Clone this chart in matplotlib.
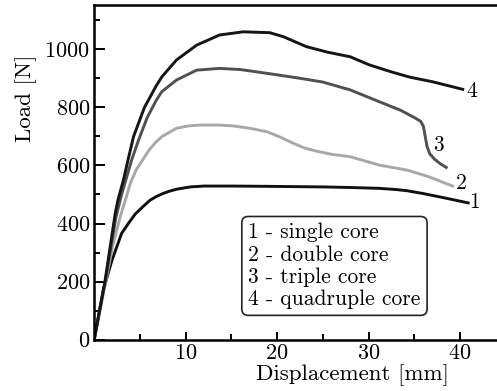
import matplotlib
matplotlib.use('Agg')
from matplotlib import pyplot as plt

plt.rcParams['font.family'] = 'serif'
plt.rcParams['font.serif'] = ['cmr10', 'DejaVu Serif']
plt.rcParams['axes.formatter.use_mathtext'] = True
plt.rcParams['mathtext.fontset'] = 'cm'

# Кривые нагрузки (перемещение [мм], нагрузка [Н])
x_single = [0, 1.0, 1.95, 3.0, 3.8, 4.5, 5.4, 6.1, 6.8, 7.5, 8.2, 9.0, 10.5, 12.0, 15.0,
            18.9, 22.0, 25.0, 28.0, 31.2, 33.0, 34.2, 36.0, 38.5, 40.9]
y_single = [0, 171, 274, 366, 403, 433, 460, 480, 493, 503, 511, 518, 526, 529, 529,
            528, 527, 526, 524, 521, 517, 513, 503, 487, 471]

x_double = [0, 1.2, 2.0, 2.85, 3.5, 3.95, 4.6, 5.3, 6.0, 6.8, 7.4, 9.0, 10.3, 11.6, 13.7,
            15.2, 17.0, 18.9, 20.3, 21.8, 23.0, 24.2, 26.0, 28.0, 31.2, 34.2, 36.5, 39.2]
y_double = [0, 190, 320, 423, 490, 538, 585, 619, 653, 682, 699, 728, 736, 739, 739,
            736, 728, 716, 698, 676, 660, 650, 638, 630, 601, 584, 562, 529]

x_triple = [0, 1.2, 2.4, 3.0, 3.6, 4.1, 4.85, 5.8, 6.8, 7.4, 9.0, 11.2, 13.7, 16.0, 18.9,
            22.5, 25.0, 28.0, 31.2, 33.5, 35.0, 35.7, 36.0, 36.2, 36.4, 36.7, 37.2, 37.8, 38.5]
y_triple = [0, 200, 425, 500, 565, 619, 687, 765, 825, 854, 894, 928, 934, 930, 917,
            900, 887, 860, 819, 790, 765, 752, 735, 700, 665, 640, 622, 607, 593]

x_quad = [0, 1.2, 2.3, 2.6, 3.2, 3.7, 4.3, 5.5, 6.8, 7.4, 9.0, 11.2, 13.7, 16.3, 19.2,
          20.7, 23.2, 25.5, 28.0, 30.1, 32.5, 34.5, 37.0, 40.3]
y_quad = [0, 205, 435, 481, 550, 619, 699, 800, 875, 905, 963, 1014, 1049, 1060, 1057,
          1043, 1009, 990, 974, 946, 922, 904, 888, 862]

curve_labels = ['1', '2', '3', '4']
label_x = [41.6, 40.1, 37.7, 41.3]
label_y = [472, 539, 670, 854]

legend_text = '1 - single core\n2 - double core\n3 - triple core\n4 - quadruple core'

fig = plt.figure(figsize=(4.97, 3.91), dpi=100)
ax = fig.add_axes([0.1895, 0.1312, 0.8105, 0.8558])

lw = 2.1
ax.plot(x_single, y_single, color='#101010', lw=lw)
ax.plot(x_double, y_double, color='#a8a8a8', lw=lw)
ax.plot(x_triple, y_triple, color='#505050', lw=lw)
ax.plot(x_quad, y_quad, color='#151515', lw=lw)

for t, xx, yy in zip(curve_labels, label_x, label_y):
    ax.text(xx, yy, t, fontsize=15.5, ha='center', va='center')

ax.text(16.85, 254, legend_text, fontsize=15.5, ha='left', va='center', linespacing=1.17,
        bbox=dict(boxstyle='round,pad=0.3', fc='white', ec='#222222', lw=1.2))

ax.set_xlim(0, 44.05)
ax.set_ylim(0, 1152)
ax.set_xticks([10, 20, 30, 40])
ax.set_xticks([5, 15, 25, 35], minor=True)
ax.set_yticks([0, 200, 400, 600, 800, 1000])
ax.set_yticks([100, 300, 500, 700, 900, 1100], minor=True)

ax.spines['right'].set_visible(False)
for s in ['left', 'bottom', 'top']:
    ax.spines[s].set_linewidth(1.8)

ax.tick_params(axis='both', which='both', direction='in', width=1.4, labelsize=16)
ax.tick_params(axis='y', which='major', length=8, pad=3)
ax.tick_params(axis='y', which='minor', length=4)
ax.tick_params(axis='x', which='major', length=6, pad=3)
ax.tick_params(axis='x', which='minor', length=4)

ax.set_xlabel('Displacement [mm]', fontsize=16.5)
ax.set_ylabel('Load [N]', fontsize=16.5)
ax.xaxis.set_label_coords(0.641, -0.074)
ax.yaxis.set_label_coords(-0.143, 0.721)

plt.savefig('out.png', dpi=100)
